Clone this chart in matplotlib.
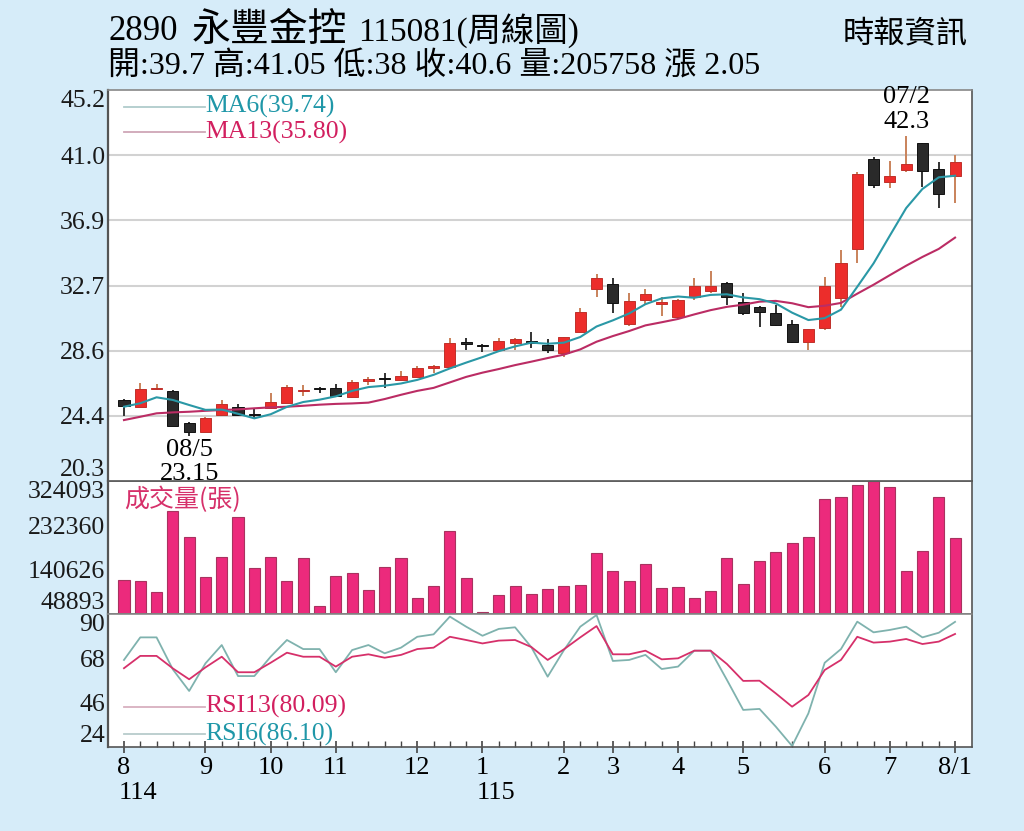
import matplotlib
matplotlib.use('Agg')
import matplotlib.pyplot as plt
import numpy as np
from matplotlib.transforms import blended_transform_factory

plt.rcParams['font.family'] = ['Liberation Serif', 'Noto Sans CJK TC', 'DejaVu Sans']

# weekly candles, 114/08 .. 115/08
opens = [25.45, 25.03, 26.15, 26.05, 24.01, 23.44, 24.50, 25.03, 24.55, 24.93,
         25.28, 26.00, 26.25, 26.24, 25.63, 26.70, 26.85, 26.73, 26.94, 27.47,
         27.58, 29.10, 28.96, 28.64, 29.06, 29.20, 28.96, 28.47, 29.80, 32.50,
         32.84, 30.29, 31.82, 31.57, 30.72, 31.99, 32.41, 32.88, 31.71, 31.39,
         31.01, 30.29, 29.13, 30.02, 31.93, 35.05, 40.78, 39.35, 40.10, 41.80,
         40.20, 39.70]
highs = [25.52, 26.52, 26.45, 26.10, 24.05, 24.35, 25.46, 25.20, 24.97, 25.88,
         26.41, 26.41, 26.30, 26.47, 26.73, 26.94, 27.15, 27.30, 27.60, 27.68,
         29.38, 29.38, 29.00, 29.42, 29.42, 29.80, 29.32, 29.50, 31.29, 33.48,
         33.20, 32.25, 32.50, 31.99, 31.90, 33.20, 33.69, 32.95, 32.25, 31.45,
         31.50, 30.55, 30.00, 33.30, 35.00, 39.99, 40.94, 40.67, 42.30, 41.85,
         40.62, 41.05]
lows = [24.44, 25.00, 26.09, 23.80, 23.15, 23.40, 24.45, 24.45, 24.30, 24.90,
        25.25, 25.71, 25.88, 25.63, 25.60, 26.41, 26.20, 26.70, 26.90, 27.15,
        27.55, 28.64, 28.53, 28.60, 28.64, 28.80, 28.43, 28.21, 29.70, 32.00,
        31.01, 30.20, 31.50, 30.80, 30.60, 31.82, 32.30, 31.50, 30.90, 30.12,
        30.20, 29.10, 28.64, 29.90, 31.40, 34.20, 38.93, 38.97, 39.99, 39.03,
        37.66, 38.00]
closes = [25.10, 26.14, 26.20, 23.82, 23.44, 24.29, 25.20, 24.50, 24.50, 25.35,
          26.30, 26.10, 26.15, 25.71, 26.62, 26.82, 26.80, 26.98, 27.51, 27.62,
          29.10, 29.05, 28.90, 29.21, 29.32, 29.10, 28.64, 29.48, 31.08, 33.20,
          31.65, 31.76, 32.18, 31.70, 31.82, 32.71, 32.73, 31.99, 30.97, 31.04,
          30.23, 29.13, 29.96, 32.71, 34.16, 39.82, 39.18, 39.73, 40.46, 40.05,
          38.57, 40.60]
volumes = [119600, 118200, 95300, 261700, 208400, 125900, 167500, 249200, 144600, 167500,
           117500, 165400, 64900, 127900, 132700, 99400, 146700, 164700, 82200, 106500,
           221500, 123100, 53700, 88700, 106500, 90500, 100900, 107100, 109200, 174300,
           136900, 116800, 151400, 102000, 105100, 82800, 96100, 163900, 110600, 159100,
           177200, 195900, 209000, 286000, 290200, 316600, 324093, 312500, 138900, 178500,
           290800, 205758]
ma6 = [25.03, 25.25, 25.63, 25.46, 25.14, 24.83, 24.85, 24.58, 24.29, 24.55,
       25.02, 25.33, 25.48, 25.69, 26.04, 26.28, 26.37, 26.51, 26.74, 27.06,
       27.47, 27.84, 28.19, 28.57, 28.87, 29.11, 29.04, 29.11, 29.47, 30.14,
       30.53, 30.97, 31.56, 31.93, 32.05, 31.97, 32.15, 32.19, 31.99, 31.88,
       31.61, 31.02, 30.55, 30.67, 31.21, 32.67, 34.16, 35.93, 37.68, 38.90,
       39.64, 39.74]
ma13 = [24.18, 24.39, 24.61, 24.67, 24.71, 24.77, 24.82, 24.86, 24.93, 24.99,
        25.03, 25.09, 25.16, 25.21, 25.24, 25.29, 25.52, 25.79, 26.04, 26.23,
        26.58, 26.93, 27.20, 27.43, 27.68, 27.90, 28.13, 28.35, 28.68, 29.17,
        29.53, 29.85, 30.21, 30.41, 30.62, 30.91, 31.18, 31.39, 31.53, 31.72,
        31.77, 31.62, 31.37, 31.46, 31.64, 32.23, 32.80, 33.41, 34.01, 34.57,
        35.08, 35.80]
rsi6 = [67.2, 78.4, 78.4, 62.5, 51.8, 65.5, 74.6, 59.2, 59.2, 68.8,
        77.1, 72.6, 72.6, 61.1, 72.1, 74.6, 70.5, 73.3, 78.7, 79.9,
        88.7, 83.7, 79.2, 82.6, 83.4, 73.5, 58.9, 72.1, 83.7, 89.5,
        66.7, 67.2, 69.7, 62.7, 63.9, 71.8, 71.8, 57.3, 42.4, 42.9,
        34.1, 24.5, 40.7, 65.8, 72.6, 86.2, 80.9, 82.1, 83.7, 78.4,
        80.7, 86.10]
rsi13 = [63.1, 69.2, 69.2, 63.0, 57.6, 63.5, 68.8, 61.1, 61.1, 65.8,
         70.8, 68.8, 68.8, 63.9, 68.8, 70.0, 68.3, 69.7, 72.6, 73.3,
         78.7, 77.1, 75.4, 76.8, 77.1, 73.6, 67.2, 72.5, 78.4, 84.0,
         70.0, 70.0, 71.8, 67.5, 68.0, 71.8, 71.8, 65.2, 56.8, 56.9,
         50.6, 44.0, 49.8, 62.2, 67.2, 78.7, 75.8, 76.3, 77.6, 75.1,
         76.3, 80.09]

month_pos = [0, 5, 9, 13, 18, 22, 27, 30, 34, 38, 43, 47, 51]
month_labels = ['8', '9', '10', '11', '12', '1', '2', '3', '4', '5', '6', '7', '8/1']
year_pos = [0, 22]
year_labels = ['114', '115']
price_ticks = [20.3, 24.45, 28.6, 32.75, 36.9, 41.05, 45.2]
price_labels = ['20.3', '24.4', '28.6', '32.7', '36.9', '41.0', '45.2']
vol_ticks = [48893, 140626, 232360, 324093]
rsi_ticks = [24, 46, 68, 90]

RED = '#ec2d2b'
BLACK = '#2a2a2a'
TEAL = '#2a98a6'
MAGENTA = '#bb2c64'
PINK = '#d6306a'

o = np.array(opens); h = np.array(highs); l = np.array(lows); c = np.array(closes)
x = np.arange(len(c))

W, H = 1024, 831
fig = plt.figure(figsize=(W / 100, H / 100), dpi=100)
fig.patch.set_facecolor('#d6ecf9')

def box(top, bottom):
    return [108 / W, 1 - bottom / H, 864 / W, (bottom - top) / H]

ax1 = fig.add_axes(box(90, 481))
ax2 = fig.add_axes(box(481, 614))
ax3 = fig.add_axes(box(614, 747))
ax1.set_zorder(3)

for ax in (ax1, ax2, ax3):
    ax.set_xlim(-0.98, 52.04)
    ax.set_facecolor('white')
    for s in ax.spines.values():
        s.set_color('#555555')
        s.set_linewidth(1.2)
    ax.spines['left'].set_linewidth(1.6)
    ax.spines['top'].set_color('#888888')
    ax.tick_params(axis='y', length=0, pad=2, labelsize=18.5, labelcolor='#1a1a1a')

# --- price panel
ax1.set_ylim(20.3, 45.2)
ax1.set_yticks(price_ticks)
ax1.set_yticklabels(price_labels)
ax1.set_xticks([])
for v in price_ticks[1:-1]:
    ax1.axhline(v, color='#d2d2d2', lw=1.5, zorder=0)

up = c >= o
body_col = np.where(up, RED, BLACK)
wick_col = np.where(up, '#c9825a', '#333333')
ax1.vlines(x, l, h, colors=wick_col, lw=1.4, zorder=2)
ax1.bar(x, np.maximum(np.abs(c - o), 0.08), bottom=np.minimum(o, c), width=0.68,
        color=body_col, edgecolor=np.where(up, '#c0302a', '#111111'), lw=0.7, zorder=3)
ax1.plot(x, ma13, color=MAGENTA, lw=1.5, zorder=4)
ax1.plot(x, ma6, color=TEAL, lw=1.5, zorder=4)

ax1.plot([0.0185, 0.112], [0.9573, 0.9573], transform=ax1.transAxes, color='#b0cccc', lw=1.3)
ax1.plot([0.0185, 0.112], [0.8926, 0.8926], transform=ax1.transAxes, color='#cfa6b6', lw=1.3)
ax1.text(0.1123, 0.9573, 'MA6(39.74)', transform=ax1.transAxes, color='#1f97a8',
         fontsize=18.5, va='center', ha='left')
ax1.text(0.1123, 0.8926, 'MA13(35.80)', transform=ax1.transAxes, color='#d21f5f',
         fontsize=18.5, va='center', ha='left')

i_lo = int(np.argmin(l)); i_hi = int(np.argmax(h))
ax1.annotate('08/5', (x[i_lo], l[i_lo]), xytext=(0, -14), textcoords='offset pixels',
             ha='center', va='center', fontsize=19, annotation_clip=False)
ax1.annotate('%.2f' % l[i_lo], (x[i_lo], l[i_lo]), xytext=(0, -38), textcoords='offset pixels',
             ha='center', va='center', fontsize=19, annotation_clip=False)
ax1.annotate('07/2', (x[i_hi], h[i_hi]), xytext=(0, 39), textcoords='offset pixels',
             ha='center', va='center', fontsize=19, annotation_clip=False)
ax1.annotate('%.1f' % h[i_hi], (x[i_hi], h[i_hi]), xytext=(0, 14), textcoords='offset pixels',
             ha='center', va='center', fontsize=19, annotation_clip=False)

# --- volume panel
ax2.bar(x, volumes, width=0.68, color='#ec2a7c', edgecolor='#a8335f', lw=0.8)
ax2.set_ylim(vol_ticks[0], vol_ticks[-1])
ax2.set_yticks(vol_ticks)
ax2.set_yticklabels([str(v) for v in vol_ticks])
ax2.set_xticks([])
ax2.text(0.0185, 0.855, '成交量(張)', transform=ax2.transAxes, color=PINK,
         fontsize=18, va='center', ha='left', family=['Noto Sans CJK TC'])

# --- RSI panel
ax3.plot(x, rsi6, color='#7fb2ae', lw=1.3)
ax3.plot(x, rsi13, color='#d6306a', lw=1.3)
ax3.set_ylim(24, 90)
ax3.set_yticks(rsi_ticks)
ax3.set_yticklabels([str(v) for v in rsi_ticks])
ax3.plot([0.0185, 0.112], [0.303, 0.303], transform=ax3.transAxes, color='#d8b0bf', lw=1.3)
ax3.plot([0.0185, 0.112], [0.098, 0.098], transform=ax3.transAxes, color='#b8cccc', lw=1.3)
ax3.text(0.1123, 0.303, 'RSI13(80.09)', transform=ax3.transAxes, color='#d21f5f',
         fontsize=18.5, va='center', ha='left')
ax3.text(0.1123, 0.098, 'RSI6(86.10)', transform=ax3.transAxes, color='#1f97a8',
         fontsize=18.5, va='center', ha='left')

ax3.set_xticks(month_pos)
ax3.set_xticklabels(month_labels)
ax3.set_xticks(x, minor=True)
ax3.tick_params(axis='x', which='major', direction='inout', length=8, width=1.2,
                color='#444444', labelsize=19, pad=3)
ax3.tick_params(axis='x', which='minor', direction='in', length=4, width=1.0, color='#444444')
tr = blended_transform_factory(ax3.transData, ax3.transAxes)
for p, s in zip(year_pos, year_labels):
    ax3.text(p - 0.35, -0.346, s, transform=tr, fontsize=19, ha='left', va='center')

for ax in (ax1, ax2, ax3):
    labs = ax.get_yticklabels()
    labs[0].set_verticalalignment('bottom')
    labs[-1].set_verticalalignment('top')

# --- header
ty = 1 - 31 / H
fig.text(108 / W, ty, '2890', fontsize=25, va='center', ha='left')
fig.text(192 / W, ty, '永豐金控', fontsize=28, va='center', ha='left')
fig.text(358 / W, ty, '115081(周線圖)', fontsize=24, va='center', ha='left')
fig.text(108 / W, 1 - 67 / H, '開:39.7 高:41.05 低:38 收:40.6 量:205758 漲 2.05',
         fontsize=23, va='center', ha='left')
fig.text(968 / W, 1 - 35 / H, '時報資訊', fontsize=22.5, va='center', ha='right')

fig.savefig('out.png', dpi=100, facecolor=fig.get_facecolor())
